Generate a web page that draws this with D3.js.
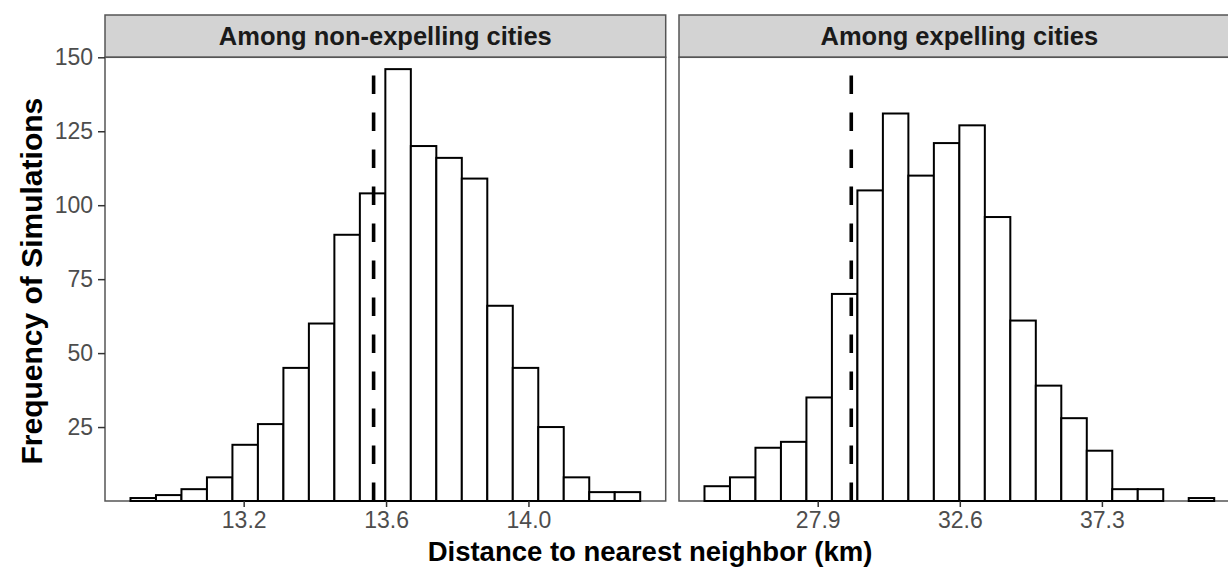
<!DOCTYPE html>
<html>
<head>
<meta charset="utf-8">
<script src="https://cdn.jsdelivr.net/npm/d3@7"></script>
<style>
  html, body { margin: 0; padding: 0; background: #fff; }
  svg { display: block; font-family: "Liberation Sans", Arial, Helvetica, sans-serif; }
</style>
</head>
<body>
<svg id="chart" width="1228" height="569"></svg>
<script>
// ---------------- DATA ----------------
const panelTitles = ["Among non-expelling cities", "Among expelling cities"];

// Left panel (non-expelling): histogram bins
const leftBinStart = 12.882;
const leftBinWidth = 0.0716;
const leftCounts = [1, 2, 4, 8, 19, 26, 45, 60, 90, 104, 146, 120, 116, 109, 66, 45, 25, 8, 3, 3];
const leftObserved = 13.565;
const leftTicks = [13.2, 13.6, 14.0];
const leftTickLabels = ["13.2", "13.6", "14.0"];

// Right panel (expelling): histogram bins
const rightBinStart = 24.155;
const rightBinWidth = 0.843;
const rightCounts = [5, 8, 18, 20, 35, 70, 105, 131, 110, 121, 127, 96, 61, 39, 28, 17, 4, 4, 0, 1];
const rightObserved = 29.01;
const rightTicks = [27.9, 32.6, 37.3];
const rightTickLabels = ["27.9", "32.6", "37.3"];

const yTicks = [25, 50, 75, 100, 125, 150];
const yTickLabels = ["25", "50", "75", "100", "125", "150"];
const yMax = 150;

const xTitle = "Distance to nearest neighbor (km)";
const yTitle = "Frequency of Simulations";

// ---------------- LAYOUT ----------------
const svg = d3.select("#chart");
const stripTop = 15, panelTop = 57.3, panelBottom = 501;
const panelWidth = 560.7;
const panelLefts = [105, 679];
const borderCol = "#555555";
const textCol = "#4D4D4D";

const y = d3.scaleLinear().domain([0, yMax]).range([panelBottom, panelTop]);

function makePanel(idx, binStart, binWidth, counts, observed, ticks, tickLabels, showY) {
  const left = panelLefts[idx];
  const n = counts.length;
  const dataMin = binStart, dataMax = binStart + n * binWidth;
  const pad = (dataMax - dataMin) * 0.05;
  const x = d3.scaleLinear().domain([dataMin - pad, dataMax + pad]).range([left, left + panelWidth]);

  const g = svg.append("g");

  // strip
  g.append("rect")
    .attr("x", left).attr("y", stripTop)
    .attr("width", panelWidth).attr("height", panelTop - stripTop)
    .attr("fill", "#D3D3D3").attr("stroke", borderCol).attr("stroke-width", 1.5);
  g.append("text")
    .attr("x", left + panelWidth / 2).attr("y", (stripTop + panelTop) / 2)
    .attr("dy", "0.35em")
    .attr("text-anchor", "middle")
    .attr("font-weight", "bold").attr("font-size", 25.5).attr("fill", "#1A1A1A")
    .text(panelTitles[idx]);

  // panel background
  g.append("rect")
    .attr("x", left).attr("y", panelTop)
    .attr("width", panelWidth).attr("height", panelBottom - panelTop)
    .attr("fill", "#fff").attr("stroke", borderCol).attr("stroke-width", 1.5);

  // bins
  const bins = counts.map((c, i) => ({ x0: binStart + i * binWidth, x1: binStart + (i + 1) * binWidth, c }))
    .filter(d => d.c > 0);
  g.append("g").selectAll("rect").data(bins).join("rect")
    .attr("x", d => x(d.x0)).attr("width", d => x(d.x1) - x(d.x0))
    .attr("y", d => y(d.c)).attr("height", d => y(0) - y(d.c))
    .attr("fill", "#fff").attr("stroke", "#000").attr("stroke-width", 2);

  // observed dashed line (drawn from bottom up)
  g.append("line")
    .attr("x1", x(observed)).attr("x2", x(observed))
    .attr("y1", panelBottom).attr("y2", panelTop)
    .attr("stroke", "#000").attr("stroke-width", 3.6)
    .attr("stroke-dasharray", "18.5,18.5");

  // x axis
  const xAxis = d3.axisBottom(x).tickValues(ticks).tickFormat((d, i) => tickLabels[i])
    .tickSize(6).tickPadding(5);
  const xa = g.append("g").attr("transform", `translate(0,${panelBottom})`).call(xAxis);
  xa.select(".domain").remove();
  xa.selectAll(".tick line").attr("stroke", "#333").attr("stroke-width", 1.5);
  xa.selectAll(".tick text").attr("fill", textCol).attr("font-size", 23)
    .attr("font-family", "Liberation Sans, Arial, sans-serif");

  if (showY) {
    const yAxis = d3.axisLeft(y).tickValues(yTicks).tickFormat((d, i) => yTickLabels[i])
      .tickSize(7).tickPadding(5);
    const ya = g.append("g").attr("transform", `translate(${left},0)`).call(yAxis);
    ya.select(".domain").remove();
    ya.selectAll(".tick line").attr("stroke", "#333").attr("stroke-width", 1.5);
    ya.selectAll(".tick text").attr("fill", textCol).attr("font-size", 23)
      .attr("font-family", "Liberation Sans, Arial, sans-serif");
  }
}

makePanel(0, leftBinStart, leftBinWidth, leftCounts, leftObserved, leftTicks, leftTickLabels, true);
makePanel(1, rightBinStart, rightBinWidth, rightCounts, rightObserved, rightTicks, rightTickLabels, false);

// axis titles
svg.append("text")
  .attr("x", 650).attr("y", 561)
  .attr("text-anchor", "middle")
  .attr("font-weight", "bold").attr("font-size", 27.5).attr("fill", "#000")
  .text(xTitle);

svg.append("text")
  .attr("transform", `translate(42,${(panelTop + panelBottom) / 2 + 2}) rotate(-90)`)
  .attr("text-anchor", "middle")
  .attr("font-weight", "bold").attr("font-size", 30).attr("fill", "#000")
  .text(yTitle);
</script>
</body>
</html>
